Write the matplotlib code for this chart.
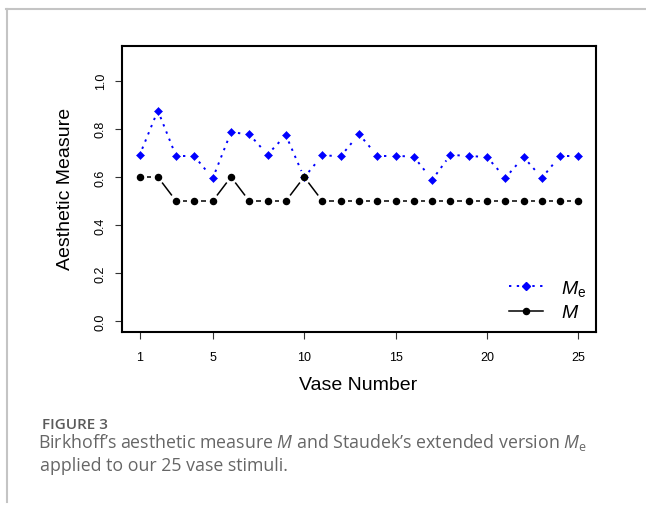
import numpy as np
import matplotlib
matplotlib.use("Agg")
import matplotlib.pyplot as plt
from matplotlib.collections import LineCollection
from matplotlib.lines import Line2D

# ---- data ----
vase = list(range(1, 26))
M_e = [0.690, 0.876, 0.686, 0.686, 0.594, 0.786, 0.777, 0.693, 0.774, 0.598,
       0.690, 0.686, 0.778, 0.688, 0.688, 0.684, 0.588, 0.692, 0.687, 0.683,
       0.596, 0.683, 0.596, 0.688, 0.688]
M = [0.6, 0.6, 0.5, 0.5, 0.5, 0.6, 0.5, 0.5, 0.5, 0.6,
     0.5, 0.5, 0.5, 0.5, 0.5, 0.5, 0.5, 0.5, 0.5, 0.5,
     0.5, 0.5, 0.5, 0.5, 0.5]
x_ticks = [1, 5, 10, 15, 20, 25]
y_ticks = [0.0, 0.2, 0.4, 0.6, 0.8, 1.0]
y_ticklabels = ["0.0", "0.2", "0.4", "0.6", "0.8", "1.0"]

plt.rcParams['mathtext.fontset'] = 'custom'
plt.rcParams['mathtext.rm'] = 'Liberation Sans'
plt.rcParams['mathtext.it'] = 'Liberation Sans:italic'
plt.rcParams['mathtext.sf'] = 'Open Sans:italic'
plt.rcParams['mathtext.tt'] = 'Open Sans'

W, H = 646, 506
fig = plt.figure(figsize=(W / 100, H / 100), dpi=100)
ax = fig.add_axes([122 / W, 1 - 333 / H, (596 - 122) / W, (333 - 47) / H])

ax.set_xlim(1 - 0.96, 25 + 0.96)
ax.set_ylim(-0.044, 1.144)


def gapped(xs, ys, gap_px):
    pts = ax.transData.transform(np.column_stack([xs, ys]))
    inv = ax.transData.inverted()
    segs = []
    for p0, p1 in zip(pts[:-1], pts[1:]):
        d = p1 - p0
        L = np.hypot(*d)
        if L > 2 * gap_px:
            u = d / L
            segs.append(inv.transform(np.array([p0 + u * gap_px, p1 - u * gap_px])))
    return segs


lc_e = LineCollection(gapped(vase, M_e, 7.0), colors='#0000ff', linewidths=1.4,
                      linestyles=[(0, (1.2, 2.8))])
ax.add_collection(lc_e)
ax.plot(vase, M_e, ls='none', marker='D', ms=4.3, color='#0000ff', mew=0.4)

lc_m = LineCollection(gapped(vase, M, 7.0), colors='black', linewidths=1.1)
ax.add_collection(lc_m)
ax.plot(vase, M, ls='none', marker='o', ms=4.4, color='black')

for s in ax.spines.values():
    s.set_linewidth(1.5)
    s.set_color('black')

ax.set_xticks(x_ticks)
ax.set_xticklabels([str(t) for t in x_ticks], fontsize=9, family='Liberation Sans')
ax.set_yticks(y_ticks)
ax.set_yticklabels(y_ticklabels, fontsize=9, family='Liberation Sans', rotation=90, va='center')
ax.tick_params(axis='both', direction='out', length=5, width=0.8, color='#333333')
ax.tick_params(axis='x', pad=9)
ax.tick_params(axis='y', pad=6)

fig.text(358 / W, 1 - 385 / H, 'Vase Number', ha='center', va='center',
         fontsize=14, family='Liberation Sans')
fig.text(66 / W, 1 - 189 / H, 'Aesthetic Measure', ha='center', va='center',
         rotation=90, fontsize=14, family='Liberation Sans')

handles = [Line2D([], [], color='#0000ff', ls=(0, (1.2, 2.8)), lw=1.4, marker='D', ms=4.3),
           Line2D([], [], color='black', ls='-', lw=1.1, marker='o', ms=4.4)]
ax.legend(handles, [r'$M_{\mathrm{e}}$', r'$M$'], loc='lower right',
          bbox_to_anchor=(1.016, -0.024), frameon=False, fontsize=14,
          handlelength=1.75, handletextpad=0.9, labelspacing=0.25)

# frame lines
fig.add_artist(Line2D([6 / W, 1], [1 - 10 / H, 1 - 10 / H], color='#c4c4c4', lw=1.5))
fig.add_artist(Line2D([6.5 / W, 6.5 / W], [1 - 10 / H, 1 - 503 / H], color='#c4c4c4', lw=1.5))

# caption
fig.text(42 / W, 1 - 429 / H, 'FIGURE 3', fontsize=11, family='Open Sans',
         weight='semibold', color='#5a5a5a', va='baseline')
fig.text(38 / W, 1 - 448 / H,
         "Birkhoff\u2019s aesthetic measure $\\mathsf{M}$ and Staudek\u2019s extended version $\\mathsf{M}_{\\mathtt{e}}$",
         fontsize=12.8, family='Open Sans', color='#666666', va='baseline')
fig.text(40 / W, 1 - 471 / H, "applied to our 25 vase stimuli.",
         fontsize=12.8, family='Open Sans', color='#666666', va='baseline')

fig.savefig('out.png', dpi=100)
